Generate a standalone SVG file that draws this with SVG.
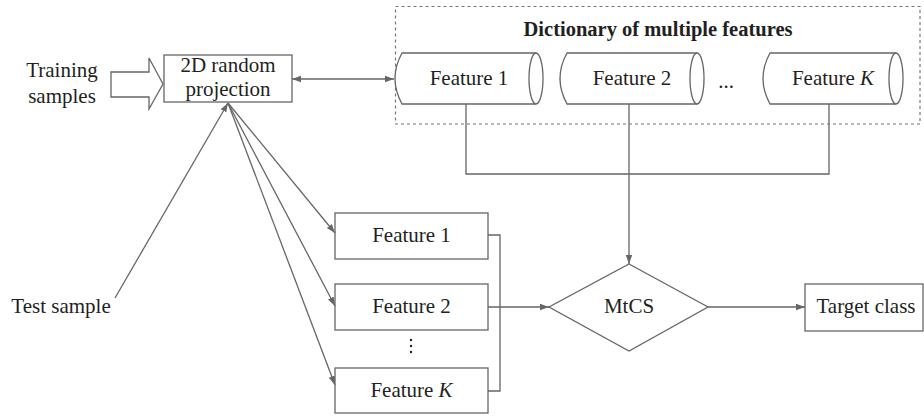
<svg xmlns="http://www.w3.org/2000/svg" width="924" height="417" viewBox="0 0 924 417">
<style>
  .ln{fill:none;stroke:#666;stroke-width:1.3}
  .box{fill:#fff;stroke:#666;stroke-width:1.3}
  .t{font-family:"Liberation Serif","Times New Roman",serif;font-size:21px;fill:#231f20;text-anchor:middle}
  .b{font-weight:bold;font-size:20.5px}
  .dash{fill:none;stroke:#777;stroke-width:1.2;stroke-dasharray:3 3}
</style>
<defs>
  <marker id="ah" markerUnits="userSpaceOnUse" markerWidth="10" markerHeight="8" refX="9" refY="4" orient="auto">
    <path d="M0,0.8 L9,4 L0,7.2 Z" fill="#666"/>
  </marker>
  <marker id="ahs" markerUnits="userSpaceOnUse" markerWidth="10" markerHeight="8" refX="1" refY="4" orient="auto">
    <path d="M10,0.8 L1,4 L10,7.2 Z" fill="#666"/>
  </marker>
</defs>

<g id="dictionary">
  <rect class="dash" x="395.5" y="6.5" width="524.5" height="117.5"/>
  <text class="t b" x="658" y="36">Dictionary of multiple features</text>
</g>

<g id="training-samples">
  <text class="t" x="62" y="77">Training</text>
  <text class="t" x="62" y="103">samples</text>
  <polygon class="box" points="111,72 149,72 149,58 163,84 149,109 149,97 111,97"/>
</g>

<g id="projection">
  <rect class="box" x="164" y="55" width="128" height="47"/>
  <text class="t" x="228" y="72">2D random</text>
  <text class="t" x="228" y="96">projection</text>
</g>

<g id="dict-feature-1">
  <path class="box" d="M536,53 L402,53 Q388,78.5 402,104 L536,104"/>
  <ellipse class="box" cx="536" cy="78.5" rx="7" ry="25.5"/>
  <text class="t" x="469" y="85">Feature 1</text>
</g>
<g id="dict-feature-2">
  <path class="box" d="M697,53 L567,53 Q553,78.5 567,104 L697,104"/>
  <ellipse class="box" cx="697" cy="78.5" rx="7" ry="25.5"/>
  <text class="t" x="632" y="85">Feature 2</text>
</g>
<g id="dict-ellipsis">
  <text class="t" x="726" y="88">...</text>
</g>
<g id="dict-feature-k">
  <path class="box" d="M896,53 L770,53 Q756,78.5 770,104 L896,104"/>
  <ellipse class="box" cx="896" cy="78.5" rx="7" ry="25.5"/>
  <text class="t" x="833" y="85">Feature <tspan font-style="italic">K</tspan></text>
</g>

<g id="test-sample">
  <text class="t" x="61" y="313">Test sample</text>
</g>

<g id="feature-1">
  <rect class="box" x="335" y="213" width="153" height="46"/>
  <text class="t" x="411.5" y="242">Feature 1</text>
</g>
<g id="feature-2">
  <rect class="box" x="335" y="284" width="153" height="46"/>
  <text class="t" x="411.5" y="313">Feature 2</text>
</g>
<g id="vdots">
  <circle cx="411" cy="340" r="1.2" fill="#231f20"/>
  <circle cx="411" cy="346" r="1.2" fill="#231f20"/>
  <circle cx="411" cy="352" r="1.2" fill="#231f20"/>
</g>
<g id="feature-k">
  <rect class="box" x="335" y="368" width="153" height="45"/>
  <text class="t" x="411.5" y="397">Feature <tspan font-style="italic">K</tspan></text>
</g>

<g id="mtcs">
  <polygon class="box" points="629,264 708,307 629,351 549,307"/>
  <text class="t" x="629" y="313">MtCS</text>
</g>

<g id="target-class">
  <rect class="box" x="805" y="284" width="118" height="47"/>
  <text class="t" x="866" y="313">Target class</text>
</g>

<g id="connectors">
  <line class="ln" x1="292" y1="79" x2="394" y2="79" marker-start="url(#ahs)" marker-end="url(#ah)"/>
  <line class="ln" x1="115" y1="298" x2="228" y2="103" marker-end="url(#ah)"/>
  <line class="ln" x1="228" y1="103" x2="335" y2="233" marker-end="url(#ah)"/>
  <line class="ln" x1="228" y1="103" x2="335" y2="306" marker-end="url(#ah)"/>
  <line class="ln" x1="228" y1="103" x2="335" y2="385" marker-end="url(#ah)"/>
  <polyline class="ln" points="466,104 466,174 829,174 829,104"/>
  <line class="ln" x1="629" y1="104" x2="629" y2="264" marker-end="url(#ah)"/>
  <polyline class="ln" points="488,235 500,235 500,391 488,391"/>
  <line class="ln" x1="488" y1="307" x2="549" y2="307" marker-end="url(#ah)"/>
  <line class="ln" x1="708" y1="307" x2="805" y2="307" marker-end="url(#ah)"/>
</g>
</svg>
